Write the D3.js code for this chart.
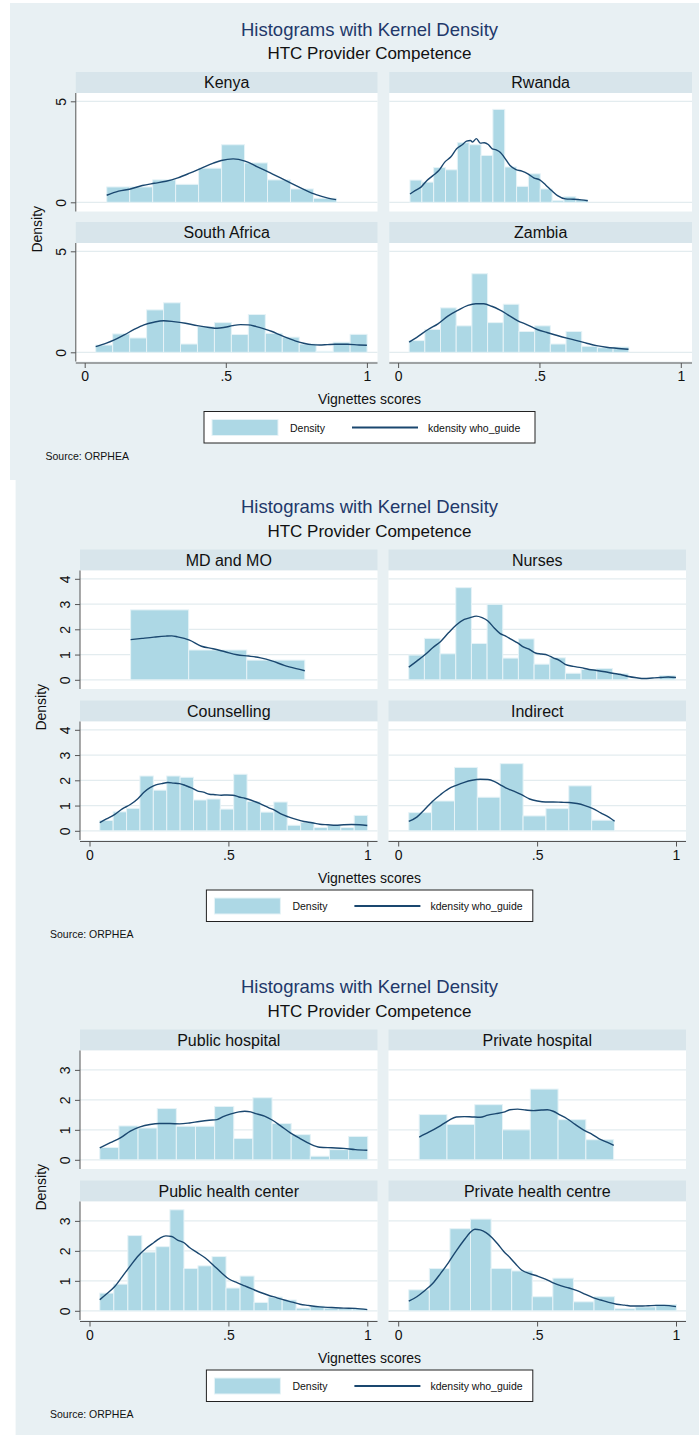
<!DOCTYPE html>
<html><head><meta charset="utf-8">
<script src="https://cdn.jsdelivr.net/npm/d3@7"></script>
<style>
body{margin:0;background:#fff}
svg{display:block}
text{font-family:"Liberation Sans",Arial,Helvetica,sans-serif}
</style>
</head><body>
<svg id="chart" width="699" height="1435"></svg>
<script>
// ---------------- DATA ----------------
const titleText = "Histograms with Kernel Density";
const subtitleText = "HTC Provider Competence";
const xTitle = "Vignettes scores";
const yTitle = "Density";
const legendLabels = ["Density", "kdensity who_guide"];
const sourceText = "Source: ORPHEA";
const xTicks = [0, 0.5, 1];
const xTickLabels = ["0", ".5", "1"];

const block1Names = ["Kenya", "Rwanda", "South Africa", "Zambia"];
const block2Names = ["MD and MO", "Nurses", "Counselling", "Indirect"];
const block3Names = ["Public hospital", "Private hospital", "Public health center", "Private health centre"];
const block1YTicks = [0, 5];
const block2YTicks = [0, 1, 2, 3, 4];
const block3YTicks = [0, 1, 2, 3];

// bins: [first bin start, bin width]
const kenyaBin = [0.078, 0.0814];
const kenyaDensity = [0.76,0.76,1.11,0.89,1.69,2.85,1.95,1.11,0.66,0.2];
const kenyaKdeX = [0.078,0.12,0.162,0.204,0.246,0.288,0.33,0.372,0.414,0.456,0.484,0.526,0.568,0.61,0.652,0.694,0.736,0.778,0.82,0.862,0.891];
const kenyaKdeY = [0.35,0.55,0.66,0.83,0.94,1.04,1.21,1.44,1.69,1.94,2.07,2.15,2.04,1.77,1.49,1.21,0.91,0.63,0.38,0.21,0.13];

const rwandaBin = [0.042, 0.0419];
const rwandaDensity = [1.1,1.0,1.72,1.61,2.95,2.85,2.32,4.6,1.75,0.79,1.41,0.66,0.08,0.28,0.13];
const rwandaKdeX = [0.042,0.06,0.081,0.102,0.123,0.144,0.165,0.186,0.207,0.228,0.242,0.256,0.263,0.277,0.291,0.305,0.319,0.333,0.347,0.361,0.375,0.396,0.417,0.438,0.459,0.48,0.501,0.522,0.543,0.564,0.592,0.62,0.648,0.671];
const rwandaKdeY = [0.41,0.58,0.75,1.08,1.32,1.57,1.99,2.24,2.65,2.86,3.03,3.06,2.98,3.15,2.93,2.95,2.86,2.65,2.6,2.48,2.24,1.82,1.62,1.54,1.41,1.21,1.11,0.86,0.58,0.33,0.17,0.15,0.12,0.08];

const southAfricaBin = [0.039, 0.0601];
const southAfricaDensity = [0.36,0.91,0.71,2.1,2.45,0.41,1.27,1.47,0.88,1.87,0.94,0.75,0.41,0.05,0.5,0.89];
const southAfricaKdeX = [0.039,0.077,0.105,0.14,0.175,0.21,0.245,0.28,0.315,0.357,0.399,0.441,0.469,0.497,0.524,0.552,0.58,0.608,0.636,0.664,0.692,0.72,0.748,0.776,0.804,0.832,0.86,0.888,0.93,0.972,1.0];
const southAfricaKdeY = [0.28,0.45,0.61,0.86,1.13,1.36,1.49,1.56,1.52,1.44,1.32,1.23,1.19,1.24,1.32,1.37,1.36,1.27,1.16,1.03,0.86,0.7,0.55,0.45,0.38,0.36,0.38,0.4,0.4,0.36,0.35];

const zambiaBin = [0.039, 0.0555];
const zambiaDensity = [0.58,1.13,2.2,1.31,3.89,1.47,2.38,1.03,1.31,0.41,1.03,0.3,0.23,0.26];
const zambiaKdeX = [0.039,0.071,0.106,0.141,0.176,0.211,0.247,0.275,0.303,0.331,0.359,0.387,0.422,0.457,0.492,0.527,0.563,0.597,0.632,0.667,0.702,0.737,0.772,0.815];
const zambiaKdeY = [0.5,0.79,1.13,1.41,1.79,2.07,2.32,2.4,2.4,2.28,2.1,1.87,1.57,1.36,1.13,0.98,0.83,0.7,0.58,0.45,0.33,0.25,0.2,0.15];

const mdBin = [0.148, 0.209];
const mdDensity = [2.77,1.18,0.78];
const mdKdeX = [0.148,0.189,0.232,0.275,0.296,0.317,0.36,0.403,0.445,0.488,0.531,0.573,0.616,0.659,0.701,0.744,0.775];
const mdKdeY = [1.59,1.64,1.69,1.73,1.74,1.7,1.57,1.33,1.23,1.11,0.99,0.94,0.87,0.74,0.57,0.44,0.36];

const nursesBin = [0.038, 0.0564];
const nursesDensity = [0.98,1.64,1.03,3.65,1.44,2.99,0.86,1.62,0.62,0.87,0.26,0.41,0.45,0.24,0,0,0.17];
const nursesKdeX = [0.038,0.067,0.095,0.124,0.152,0.181,0.209,0.238,0.259,0.281,0.302,0.323,0.345,0.366,0.387,0.409,0.43,0.452,0.473,0.494,0.516,0.537,0.558,0.58,0.601,0.63,0.658,0.687,0.715,0.744,0.772,0.801,0.829,0.858,0.886,0.915,0.943,0.972,1.0];
const nursesKdeY = [0.5,0.74,0.98,1.27,1.51,1.86,2.17,2.39,2.46,2.52,2.46,2.33,2.06,1.84,1.73,1.59,1.46,1.29,1.2,1.06,1.02,0.98,0.87,0.77,0.61,0.53,0.48,0.41,0.37,0.32,0.26,0.21,0.13,0.08,0.05,0.07,0.09,0.11,0.09];

const counsellingBin = [0.037, 0.0482];
const counsellingDensity = [0.41,0.75,0.89,2.17,1.61,2.17,2.12,1.22,1.26,0.86,2.24,1.16,0.74,1.14,0.22,0.34,0.13,0.21,0.13,0.61];
const counsellingKdeX = [0.037,0.061,0.09,0.118,0.147,0.175,0.196,0.218,0.239,0.26,0.282,0.303,0.324,0.346,0.367,0.388,0.41,0.431,0.452,0.474,0.495,0.516,0.538,0.559,0.58,0.602,0.623,0.644,0.666,0.687,0.716,0.744,0.772,0.801,0.829,0.858,0.886,0.915,0.943,0.972,1.0];
const counsellingKdeY = [0.32,0.47,0.64,0.87,1.04,1.28,1.53,1.71,1.82,1.87,1.91,1.89,1.87,1.79,1.7,1.58,1.53,1.45,1.43,1.41,1.42,1.41,1.34,1.29,1.22,1.13,1.03,0.92,0.82,0.68,0.55,0.45,0.37,0.32,0.26,0.24,0.22,0.24,0.25,0.24,0.21];

const indirectBin = [0.038, 0.0823];
const indirectDensity = [0.72,1.18,2.51,1.33,2.66,0.59,0.88,1.78,0.42];
const indirectKdeX = [0.038,0.067,0.095,0.124,0.152,0.181,0.209,0.238,0.266,0.295,0.323,0.345,0.366,0.387,0.416,0.444,0.473,0.501,0.53,0.558,0.587,0.615,0.644,0.672,0.701,0.729,0.758,0.779];
const indirectKdeY = [0.37,0.54,0.84,1.17,1.43,1.66,1.8,1.92,2.0,2.04,2.03,1.96,1.83,1.7,1.57,1.43,1.26,1.18,1.14,1.14,1.13,1.12,1.08,1.0,0.88,0.71,0.54,0.38];

const publicHospBin = [0.037, 0.0689];
const publicHospDensity = [0.41,1.13,1.06,1.71,1.12,1.12,1.78,0.71,2.07,1.21,0.84,0.12,0.34,0.78];
const publicHospKdeX = [0.037,0.075,0.111,0.147,0.182,0.218,0.253,0.289,0.324,0.36,0.395,0.431,0.459,0.481,0.509,0.538,0.559,0.58,0.602,0.63,0.659,0.687,0.723,0.758,0.794,0.829,0.872,0.915,0.957,1.0];
const publicHospKdeY = [0.4,0.57,0.73,0.96,1.1,1.18,1.21,1.21,1.2,1.23,1.28,1.32,1.34,1.44,1.53,1.6,1.62,1.6,1.53,1.46,1.32,1.14,0.9,0.71,0.53,0.42,0.4,0.38,0.34,0.32];

const privateHospBin = [0.0755, 0.1];
const privateHospDensity = [1.51,1.18,1.84,1.0,2.36,1.34,0.67];
const privateHospKdeX = [0.0755,0.11,0.145,0.181,0.209,0.238,0.266,0.295,0.323,0.352,0.38,0.402,0.43,0.459,0.487,0.516,0.537,0.558,0.58,0.608,0.637,0.665,0.694,0.722,0.751,0.776];
const privateHospKdeY = [0.76,0.92,1.1,1.31,1.43,1.44,1.43,1.42,1.49,1.54,1.59,1.67,1.69,1.66,1.64,1.66,1.67,1.62,1.51,1.37,1.18,1.01,0.87,0.71,0.59,0.48];

const publicHcBin = [0.037, 0.0505];
const publicHcDensity = [0.59,0.89,2.51,1.96,2.14,3.37,1.41,1.5,1.81,0.76,1.16,0.28,0.46,0.36,0.09,0.16,0.09,0.07,0.07];
const publicHcKdeX = [0.037,0.061,0.09,0.118,0.147,0.175,0.203,0.232,0.253,0.275,0.296,0.317,0.339,0.36,0.388,0.417,0.445,0.474,0.502,0.531,0.559,0.587,0.616,0.644,0.673,0.701,0.73,0.758,0.787,0.829,0.872,0.915,0.957,1.0];
const publicHcKdeY = [0.37,0.56,0.8,1.14,1.5,1.83,2.08,2.28,2.42,2.5,2.48,2.36,2.28,2.11,1.94,1.76,1.53,1.28,1.06,0.94,0.83,0.72,0.61,0.52,0.44,0.36,0.29,0.22,0.18,0.13,0.11,0.09,0.08,0.04];

const privateHcBin = [0.038, 0.0741];
const privateHcDensity = [0.7,1.41,2.74,3.06,1.41,1.33,0.47,1.09,0.3,0.47,0.07,0.13,0.21];
const privateHcKdeX = [0.038,0.067,0.095,0.124,0.152,0.181,0.209,0.238,0.259,0.276,0.295,0.316,0.338,0.359,0.38,0.402,0.423,0.444,0.473,0.501,0.53,0.558,0.587,0.615,0.644,0.672,0.701,0.729,0.758,0.786,0.815,0.843,0.872,0.9,0.929,0.957,1.0];
const privateHcKdeY = [0.32,0.47,0.67,0.91,1.24,1.61,2.0,2.37,2.61,2.72,2.7,2.61,2.44,2.22,1.98,1.78,1.56,1.36,1.24,1.16,1.06,0.93,0.83,0.76,0.67,0.56,0.44,0.36,0.28,0.22,0.19,0.16,0.16,0.17,0.18,0.18,0.14];

// ---------------- STYLE / LAYOUT ----------------
const C = {
  bg: "#e8f0f3", strip: "#d8e5eb", plot: "#ffffff", grid: "#e3ecef",
  bar: "#add8e5", barEdge: "#e6f3f7", line: "#1a476f", title: "#22386a",
  axis: "#555555", text: "#111111"
};
const FONT = {title: 18.5, sub: 17, strip: 16, tick: 14, axisTitle: 14, legend: 10.5, source: 10.5};
const plotH = 118.5, stripH = 21;

const colsB1 = [{l: 75.8, r: 377.5, x0: 84.7, x1: 366.9}, {l: 389.3, r: 692, x0: 398.1, x1: 680.8}];
const colsB23 = [{l: 80, r: 377.5, x0: 89.5, x1: 367.3}, {l: 388.5, r: 686, x0: 398.2, x1: 676}];

const blocks = [
  {bg: [10, 3, 689, 477], titleY: 35.7, subY: 59, rowTops: [93, 243], cols: colsB1, legend: [204, 535], srcX: 45.5,
   names: block1Names, yTicks: block1YTicks,
   panels: [[kenyaBin, kenyaDensity, kenyaKdeX, kenyaKdeY], [rwandaBin, rwandaDensity, rwandaKdeX, rwandaKdeY],
            [southAfricaBin, southAfricaDensity, southAfricaKdeX, southAfricaKdeY], [zambiaBin, zambiaDensity, zambiaKdeX, zambiaKdeY]]},
  {bg: [15.6, 480, 684, 478], titleY: 512.7, subY: 536.5, rowTops: [570.5, 721.5], cols: colsB23, legend: [206.4, 532.8], srcX: 50,
   names: block2Names, yTicks: block2YTicks,
   panels: [[mdBin, mdDensity, mdKdeX, mdKdeY], [nursesBin, nursesDensity, nursesKdeX, nursesKdeY],
            [counsellingBin, counsellingDensity, counsellingKdeX, counsellingKdeY], [indirectBin, indirectDensity, indirectKdeX, indirectKdeY]]},
  {bg: [15.6, 958, 684, 477], titleY: 993, subY: 1016.5, rowTops: [1050.5, 1201.5], cols: colsB23, legend: [206.4, 532.8], srcX: 50,
   names: block3Names, yTicks: block3YTicks,
   panels: [[publicHospBin, publicHospDensity, publicHospKdeX, publicHospKdeY], [privateHospBin, privateHospDensity, privateHospKdeX, privateHospKdeY],
            [publicHcBin, publicHcDensity, publicHcKdeX, publicHcKdeY], [privateHcBin, privateHcDensity, privateHcKdeX, privateHcKdeY]]}
];

const svg = d3.select("#chart");

blocks.forEach(b => {
  const g = svg.append("g");
  g.append("rect").attr("x", b.bg[0]).attr("y", b.bg[1]).attr("width", b.bg[2]).attr("height", b.bg[3]).attr("fill", C.bg);

  const cx = 369.5;
  g.append("text").attr("x", cx).attr("y", b.titleY).attr("text-anchor", "middle")
    .attr("font-size", FONT.title).attr("fill", C.title).text(titleText);
  g.append("text").attr("x", cx).attr("y", b.subY).attr("text-anchor", "middle")
    .attr("font-size", FONT.sub).attr("fill", C.text).text(subtitleText);

  const allMax = d3.max(b.panels, p => d3.max(p[1]));
  const yMax = Math.max(allMax, d3.max(b.yTicks));

  b.panels.forEach((p, i) => {
    const row = Math.floor(i / 2), col = i % 2;
    const c = b.cols[col];
    const top = b.rowTops[row];
    const x = d3.scaleLinear().domain([0, 1]).range([c.x0, c.x1]);
    const y = d3.scaleLinear().domain([0, yMax]).range([top + 109.3, top + 109.3 - 101 * (yMax / yMax)]);
    // y range: top tick (or max) placed 8.3px below plot top
    y.range([top + 109.3, top + 8.3]);

    // strip
    g.append("rect").attr("x", c.l).attr("y", top - stripH).attr("width", c.r - c.l).attr("height", stripH).attr("fill", C.strip);
    g.append("text").attr("x", (c.l + c.r) / 2).attr("y", top - stripH / 2 + FONT.strip * 0.35)
      .attr("text-anchor", "middle").attr("font-size", FONT.strip).attr("fill", C.text).text(b.names[i]);
    // plot region
    g.append("rect").attr("x", c.l).attr("y", top).attr("width", c.r - c.l).attr("height", plotH).attr("fill", C.plot);
    // grid
    g.selectAll(null).data(b.yTicks).join("line")
      .attr("x1", c.l).attr("x2", c.r).attr("y1", d => y(d)).attr("y2", d => y(d))
      .attr("stroke", C.grid).attr("stroke-width", 1.3);

    // bars
    const [start, width] = p[0];
    g.selectAll(null).data(p[1]).join("rect")
      .attr("x", (d, k) => x(start + k * width))
      .attr("width", (d, k) => x(start + (k + 1) * width) - x(start + k * width))
      .attr("y", d => y(d)).attr("height", d => y(0) - y(d))
      .attr("fill", C.bar).attr("stroke", C.barEdge).attr("stroke-width", 1);

    // kde
    const pts = p[2].map((v, k) => [v, p[3][k]]);
    g.append("path").datum(pts)
      .attr("d", d3.line().x(d => x(d[0])).y(d => y(d[1])).curve(d3.curveMonotoneX))
      .attr("fill", "none").attr("stroke", C.line).attr("stroke-width", 1.4);

    // y axis on left column
    if (col === 0) {
      const ax = g.append("g").attr("transform", `translate(${c.l},0)`)
        .call(d3.axisLeft(y).tickValues(b.yTicks).tickSize(5).tickFormat(d3.format("d")));
      ax.select(".domain").attr("d", `M0,${top}V${top + plotH}`).attr("stroke", C.axis);
      ax.selectAll(".tick line").attr("stroke", C.axis);
      ax.selectAll(".tick text").attr("font-size", FONT.tick).attr("fill", C.text)
        .attr("font-family", "Liberation Sans, Arial, sans-serif")
        .attr("x", 0).attr("dy", null).attr("y", 0)
        .attr("text-anchor", "middle")
        .attr("transform", "translate(-10,0) rotate(-90)");
    }
    // x axis on bottom row
    if (row === 1) {
      const axY = top + plotH + 1.5;
      const ax = g.append("g").attr("transform", `translate(0,${axY})`)
        .call(d3.axisBottom(x).tickValues(xTicks).tickSize(5).tickFormat((d, k) => xTickLabels[k]));
      ax.select(".domain").attr("d", `M${c.l},0H${c.r}`).attr("stroke", C.axis);
      ax.selectAll(".tick line").attr("stroke", C.axis);
      ax.selectAll(".tick text").attr("font-size", FONT.tick).attr("fill", C.text)
        .attr("font-family", "Liberation Sans, Arial, sans-serif")
        .attr("dy", null).attr("y", 18);
    }
  });

  const plotBottom = b.rowTops[1] + plotH;
  // y title
  const yMid = (b.rowTops[0] + plotBottom) / 2 + 2;
  g.append("text").attr("transform", `translate(${b.cols[0].l - 34},${yMid}) rotate(-90)`)
    .attr("text-anchor", "middle").attr("font-size", FONT.axisTitle).attr("fill", C.text).text(yTitle);
  // x title
  g.append("text").attr("x", cx).attr("y", plotBottom + 42.5).attr("text-anchor", "middle")
    .attr("font-size", FONT.axisTitle).attr("fill", C.text).text(xTitle);

  // legend
  const [lx0, lx1] = b.legend;
  const ly = plotBottom + 50;
  const lg = g.append("g");
  lg.append("rect").attr("x", lx0).attr("y", ly).attr("width", lx1 - lx0).attr("height", 31.5)
    .attr("fill", "#ffffff").attr("stroke", "#222").attr("stroke-width", 1);
  lg.append("rect").attr("x", lx0 + 8).attr("y", ly + 8).attr("width", 66).attr("height", 16)
    .attr("fill", C.bar).attr("stroke", C.barEdge).attr("stroke-width", 1);
  lg.append("text").attr("x", lx0 + 86).attr("y", ly + 20).attr("font-size", FONT.legend).attr("fill", C.text).text(legendLabels[0]);
  lg.append("line").attr("x1", lx0 + 148).attr("x2", lx0 + 214).attr("y1", ly + 16).attr("y2", ly + 16)
    .attr("stroke", C.line).attr("stroke-width", 1.8);
  lg.append("text").attr("x", lx0 + 224).attr("y", ly + 20).attr("font-size", FONT.legend).attr("fill", C.text).text(legendLabels[1]);

  // source
  g.append("text").attr("x", b.srcX).attr("y", plotBottom + 98).attr("font-size", FONT.source).attr("fill", C.text).text(sourceText);
});
</script>
</body></html>
